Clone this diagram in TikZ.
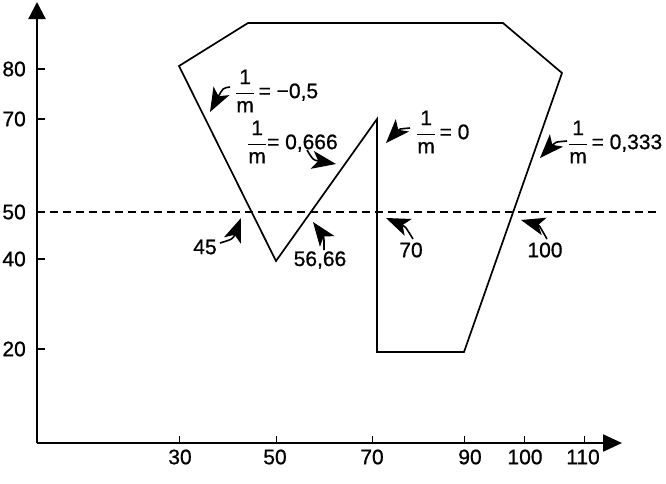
\documentclass[tikz,border=0pt]{standalone}
\usepackage{fontspec}
\setmainfont{Liberation Sans}
\usetikzlibrary{arrows.meta}
\begin{document}
\begin{tikzpicture}[x=1pt,y=-1pt,
  lab/.style={font=\fontsize{21}{25}\selectfont\addfontfeature{FakeBold=0.8}, inner sep=0pt},
  pointer/.style={line width=1.6pt, -{Stealth[length=24pt,width=18pt,inset=6pt]}},
  outline/.style={line width=1.7pt, line join=miter},
  axis/.style={line width=2.2pt},
  ytick/.style={line width=1.5pt},
  xtick/.style={line width=0.8pt}
]
\useasboundingbox (0,0) rectangle (666,483);
% axes
\coordinate (O) at (37,443);
\coordinate (Ytop) at (37,2);
\coordinate (Xend) at (622,443);
\draw[axis,-{Triangle[length=17pt,width=17pt]}] (O) -- (Ytop);
\draw[axis,-{Triangle[length=19pt,width=17pt]}] (O) -- (Xend);
% y ticks and labels
\foreach \v/\y in {80/69,70/119,50/212,40/259,20/349}{
  \coordinate (yt\v) at (37,\y);
  \draw[ytick] (yt\v) -- ++(8,0);
  \node[lab,anchor=east] (yl\v) at (26,\y) {\v};
}
% x ticks and labels
\foreach \v/\x/\lx in {30/179/180,50/276/275,70/372/372,90/464/470,100/524/525,110/584/583}{
  \coordinate (xt\v) at (\x,443);
  \draw[xtick] (xt\v) -- ++(0,-7);
  \node[lab] (xl\v) at (\lx,457) {\v};
}
% dashed line y = 50
\coordinate (d1) at (37,212);
\coordinate (d2) at (660,212);
\draw[line width=1.5pt, dash pattern=on 8pt off 5pt] (d1) -- (d2);
% polygon
\coordinate (A) at (179,66);
\coordinate (B) at (248,23);
\coordinate (C) at (503,23);
\coordinate (D) at (562,73);
\coordinate (E) at (464,352);
\coordinate (F) at (377,352);
\coordinate (G) at (377,119);
\coordinate (H) at (276,261);
\draw[outline] (A) -- (B) -- (C) -- (D) -- (E) -- (F) -- (G) -- (H) -- cycle;
% slope labels
\node[lab,anchor=west] (s1) at (235,91) {$\displaystyle\frac{\mbox{1}}{\mbox{m}}$\,= −0,5};
\node[lab,anchor=west] (s2) at (247,142) {$\displaystyle\frac{\mbox{1}}{\mbox{m}}$= 0,666};
\node[lab,anchor=west] (s3) at (416,132) {$\displaystyle\frac{\mbox{1}}{\mbox{m}}$\,= 0};
\node[lab,anchor=west] (s4) at (568,142) {$\displaystyle\frac{\mbox{1}}{\mbox{m}}$\,= 0,333};
% intersection labels
\node[lab] (n45) at (205,247) {45};
\node[lab] (n56) at (320,260) {56,66};
\node[lab] (n70) at (411,250) {70};
\node[lab] (n100) at (545,250) {100};
% pointer arrows
\coordinate (t1) at (230,87);  \coordinate (p1) at (210,112);
\coordinate (t2) at (307,150); \coordinate (p2) at (336,164);
\coordinate (t3) at (410,128); \coordinate (p3) at (386,143);
\coordinate (t4) at (567,141); \coordinate (p4) at (540,158);
\coordinate (t5) at (220,243); \coordinate (p5) at (241,218);
\coordinate (t6) at (324,250); \coordinate (p6) at (313,222);
\coordinate (t7) at (413,239); \coordinate (p7) at (386,218);
\coordinate (t8) at (547,239); \coordinate (p8) at (521,220);
\draw[pointer] (t1) .. controls (223,88) .. (p1);
\draw[pointer] (t2) .. controls (313,160) .. (p2);
\draw[pointer] (t3) .. controls (399,129) .. (p3);
\draw[pointer] (t4) .. controls (555,142) .. (p4);
\draw[pointer] (t5) .. controls (233,239) .. (p5);
\draw[pointer] (t6) .. controls (324,237) .. (p6);
\draw[pointer] (t7) .. controls (405,226) .. (p7);
\draw[pointer] (t8) .. controls (539,225) .. (p8);
\end{tikzpicture}
\end{document}
